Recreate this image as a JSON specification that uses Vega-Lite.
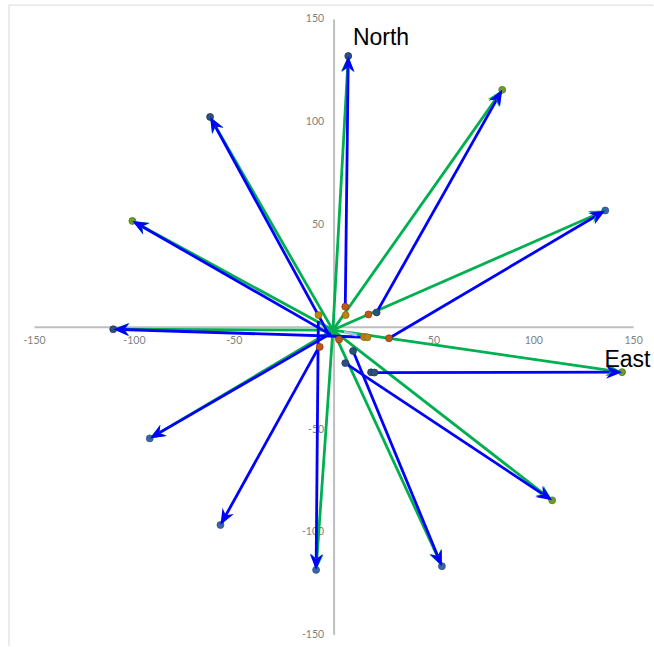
{
  "$schema": "https://vega.github.io/schema/vega-lite/v6.json",
  "width": 654,
  "height": 647,
  "autosize": {"type": "fit", "contains": "padding"},
  "padding": 0,
  "background": "white",
  "config": {"view": {"stroke": null}},
  "datasets": {
    "vectors": [
      {"set": "green", "x0": -0.6, "y0": -1.4, "x1": 7.1, "y1": 132.2, "bearing": 3.2},
      {"set": "green", "x0": -0.6, "y0": -1.4, "x1": 84.2, "y1": 115.7, "bearing": 35.2},
      {"set": "green", "x0": -0.6, "y0": -1.4, "x1": 135.8, "y1": 56.9, "bearing": 66.3},
      {"set": "green", "x0": -0.6, "y0": -1.4, "x1": 144.2, "y1": -21.9, "bearing": 98.3},
      {"set": "green", "x0": -0.6, "y0": -1.4, "x1": 109.2, "y1": -84.4, "bearing": 127.8},
      {"set": "green", "x0": -0.6, "y0": -1.4, "x1": 54, "y1": -116.5, "bearing": 155.2},
      {"set": "green", "x0": -0.6, "y0": -1.4, "x1": -9, "y1": -118.3, "bearing": 184},
      {"set": "green", "x0": -0.6, "y0": -1.4, "x1": -92.3, "y1": -54.2, "bearing": 239.5},
      {"set": "green", "x0": -0.6, "y0": -1.4, "x1": -110.6, "y1": -1, "bearing": 270.2},
      {"set": "green", "x0": -0.6, "y0": -1.4, "x1": -101, "y1": 51.8, "bearing": 298.5},
      {"set": "green", "x0": -0.6, "y0": -1.4, "x1": -62.1, "y1": 102.5, "bearing": 330},
      {"set": "blue", "x0": 5.6, "y0": 10, "x1": 7.1, "y1": 132.2, "bearing": 0.7},
      {"set": "blue", "x0": 21.3, "y0": 7.2, "x1": 84.2, "y1": 115.7, "bearing": 29.5},
      {"set": "blue", "x0": 27.5, "y0": -5.4, "x1": 135.8, "y1": 56.9, "bearing": 59.5},
      {"set": "blue", "x0": 20.2, "y0": -22.1, "x1": 144.2, "y1": -21.9, "bearing": 89.9},
      {"set": "blue", "x0": 5.6, "y0": -17.5, "x1": 109.2, "y1": -84.4, "bearing": 123.5},
      {"set": "blue", "x0": 9.5, "y0": -11.6, "x1": 54, "y1": -116.5, "bearing": 157.5},
      {"set": "blue", "x0": -7.9, "y0": 3, "x1": -9, "y1": -118.3, "bearing": 180.5},
      {"set": "blue", "x0": -7.5, "y0": -9.5, "x1": -56.9, "y1": -96.4, "bearing": 209},
      {"set": "blue", "x0": -1.5, "y0": -3, "x1": -92.3, "y1": -54.2, "bearing": 240},
      {"set": "blue", "x0": 16.7, "y0": -4.9, "x1": -110.6, "y1": -1, "bearing": 271.8},
      {"set": "blue", "x0": -2, "y0": -3.5, "x1": -101, "y1": 51.8, "bearing": 299.8},
      {"set": "blue", "x0": -2.7, "y0": -3.4, "x1": -62.1, "y1": 102.5, "bearing": 331.3},
      {"set": "light", "x0": 5, "y0": -2.3, "x1": 11.5, "y1": -3.9, "bearing": 104}
    ],
    "markers": [
      {"kind": "navy", "x": 7.1, "y": 132.2},
      {"kind": "olive", "x": 84.2, "y": 115.7},
      {"kind": "steel", "x": 135.8, "y": 56.9},
      {"kind": "olive", "x": 144.2, "y": -21.9},
      {"kind": "olive", "x": 109.2, "y": -84.4},
      {"kind": "steel", "x": 54, "y": -116.5},
      {"kind": "steel", "x": -9, "y": -118.3},
      {"kind": "steel", "x": -56.9, "y": -96.4},
      {"kind": "steel", "x": -92.3, "y": -54.2},
      {"kind": "navy", "x": -110.6, "y": -1},
      {"kind": "olive", "x": -101, "y": 51.8},
      {"kind": "navy", "x": -62.1, "y": 102.5},
      {"kind": "rust", "x": 5.6, "y": 10},
      {"kind": "gold", "x": 5.8, "y": 5.9},
      {"kind": "rust", "x": 17.2, "y": 6.2},
      {"kind": "navy", "x": 21.3, "y": 7.2},
      {"kind": "rust", "x": 27.5, "y": -5.4},
      {"kind": "navy", "x": 18.5, "y": -22},
      {"kind": "navy", "x": 20.2, "y": -22.1},
      {"kind": "navy", "x": 5.6, "y": -17.5},
      {"kind": "navy", "x": 9.5, "y": -11.6},
      {"kind": "gold", "x": -7.8, "y": 5.9},
      {"kind": "gold", "x": 15, "y": -4.8},
      {"kind": "gold", "x": 16.7, "y": -4.9},
      {"kind": "rust", "x": 2.5, "y": -6},
      {"kind": "rust", "x": -7.2, "y": -9.6}
    ],
    "ticks": [
      {"axis": "x", "v": -150, "t": "-150"},
      {"axis": "x", "v": -100, "t": "-100"},
      {"axis": "x", "v": -50, "t": "-50"},
      {"axis": "x", "v": 50, "t": "50"},
      {"axis": "x", "v": 100, "t": "100"},
      {"axis": "x", "v": 150, "t": "150"},
      {"axis": "y", "v": 150, "t": "150"},
      {"axis": "y", "v": 100, "t": "100"},
      {"axis": "y", "v": 50, "t": "50"},
      {"axis": "y", "v": -50, "t": "-50"},
      {"axis": "y", "v": -100, "t": "-100"},
      {"axis": "y", "v": -150, "t": "-150"}
    ],
    "compass": [
      {"name": "North", "x": 23.5, "y": 137.6},
      {"name": "East", "x": 146.9, "y": -19.2}
    ]
  },
  "layer": [
    {
      "description": "chart area border, left edge",
      "data": {"values": [{}]},
      "mark": {"type": "rule", "color": "#d9d9d9", "strokeWidth": 1},
      "encoding": {
        "x": {"datum": -162.8, "type": "quantitative", "scale": {"domain": [-167.3, 159.7], "nice": false, "zero": false}, "axis": null},
        "y": {"datum": -155.4, "type": "quantitative", "scale": {"domain": [-155.4, 159.5], "nice": false, "zero": false}, "axis": null},
        "y2": {"datum": 157}
      }
    },
    {
      "description": "chart area border, top edge",
      "data": {"values": [{}]},
      "mark": {"type": "rule", "color": "#d9d9d9", "strokeWidth": 1},
      "encoding": {
        "x": {"datum": -162.8, "type": "quantitative"},
        "x2": {"datum": 159.7},
        "y": {"datum": 157, "type": "quantitative"}
      }
    },
    {
      "description": "vertical axis line through the origin",
      "data": {"values": [{}]},
      "mark": {"type": "rule", "color": "#bfbfbf", "strokeWidth": 2},
      "encoding": {
        "x": {"datum": 0, "type": "quantitative"},
        "y": {"datum": -150, "type": "quantitative"},
        "y2": {"datum": 150}
      }
    },
    {
      "description": "horizontal axis line through the origin",
      "data": {"values": [{}]},
      "mark": {"type": "rule", "color": "#bfbfbf", "strokeWidth": 2},
      "encoding": {
        "x": {"datum": -150, "type": "quantitative"},
        "x2": {"datum": 150},
        "y": {"datum": 0, "type": "quantitative"}
      }
    },
    {
      "data": {"name": "ticks"},
      "transform": [{"filter": "datum.axis === 'x'"}],
      "mark": {"type": "text", "font": "Lato", "fontSize": 10.5, "color": "#7f7f7f", "align": "center", "baseline": "middle", "dy": 14},
      "encoding": {
        "x": {"field": "v", "type": "quantitative"},
        "y": {"datum": 0, "type": "quantitative"},
        "text": {"field": "t"}
      }
    },
    {
      "data": {"name": "ticks"},
      "transform": [{"filter": "datum.axis === 'y'"}],
      "mark": {"type": "text", "font": "Lato", "fontSize": 10.5, "color": "#7f7f7f", "align": "right", "baseline": "middle", "dx": -10},
      "encoding": {
        "x": {"datum": 0, "type": "quantitative"},
        "y": {"field": "v", "type": "quantitative"},
        "text": {"field": "t"}
      }
    },
    {
      "data": {"name": "vectors"},
      "mark": {"type": "rule", "strokeWidth": 2.8},
      "encoding": {
        "x": {"field": "x0", "type": "quantitative"},
        "y": {"field": "y0", "type": "quantitative"},
        "x2": {"field": "x1"},
        "y2": {"field": "y1"},
        "color": {"field": "set", "type": "nominal", "scale": {"domain": ["green", "blue", "light"], "range": ["#00b050", "#0000ff", "#9dc3e6"]}, "legend": null}
      }
    },
    {
      "data": {"name": "markers"},
      "mark": {"type": "point", "shape": "circle", "filled": true, "size": 48, "opacity": 1, "strokeWidth": 0.8},
      "encoding": {
        "x": {"field": "x", "type": "quantitative"},
        "y": {"field": "y", "type": "quantitative"},
        "fill": {"field": "kind", "type": "nominal", "scale": {"domain": ["navy", "steel", "olive", "rust", "gold"], "range": ["#2f4f7f", "#3c67a6", "#6f9a32", "#c0561a", "#b8860b"]}, "legend": null},
        "stroke": {"field": "kind", "type": "nominal", "scale": {"domain": ["navy", "steel", "olive", "rust", "gold"], "range": ["#22385c", "#2c4f82", "#4f7222", "#8e3f12", "#8a6508"]}, "legend": null}
      }
    },
    {
      "data": {"name": "vectors"},
      "transform": [{"filter": "datum.set !== 'light'"}],
      "mark": {"type": "point", "shape": "M0,0 L0.65,1.6 L0,1.1 L-0.65,1.6 Z", "filled": true, "size": 400, "opacity": 1, "strokeWidth": 0},
      "encoding": {
        "x": {"field": "x1", "type": "quantitative"},
        "y": {"field": "y1", "type": "quantitative"},
        "angle": {"field": "bearing", "type": "quantitative", "scale": null},
        "color": {"field": "set", "type": "nominal", "legend": null}
      }
    },
    {
      "data": {"name": "compass"},
      "mark": {"type": "text", "font": "Liberation Sans", "fontSize": 23, "color": "#000000", "align": "center", "baseline": "alphabetic"},
      "encoding": {
        "x": {"field": "x", "type": "quantitative"},
        "y": {"field": "y", "type": "quantitative"},
        "text": {"field": "name"}
      }
    }
  ]
}
